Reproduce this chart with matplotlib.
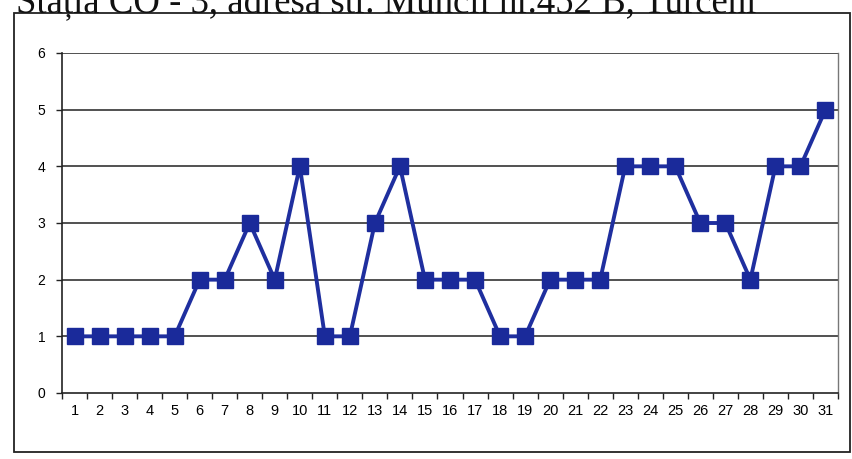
import matplotlib
matplotlib.use("Agg")
import matplotlib.pyplot as plt
from matplotlib.patches import Rectangle

days = list(range(1, 32))
values = [1, 1, 1, 1, 1, 2, 2, 3, 2, 4, 1, 1, 3, 4, 2, 2, 2, 1, 1, 2, 2, 2,
          4, 4, 4, 3, 3, 2, 4, 4, 5]
yticks = [0, 1, 2, 3, 4, 5, 6]
title_text = "Stația CO - 3, adresa str. Muncii nr.452 B, Turceni"

W, H = 853, 459
fig = plt.figure(figsize=(W / 100, H / 100), dpi=100)
fig.patch.set_facecolor("white")

# outer chart frame
fig.patches.append(Rectangle((14 / W, 1 - 452 / H), (850 - 14) / W, (452 - 13) / H,
                             transform=fig.transFigure, fill=False,
                             edgecolor="#222222", linewidth=1.3))

fig.text(16 / W, 1 - 12 / H, title_text, family="Liberation Serif",
         fontsize=26.5, va="baseline", ha="left", color="#111111")

ax = fig.add_axes([62 / W, 1 - 393 / H, (838 - 62) / W, (393 - 53) / H])
ax.set_xlim(0.5, 31.5)
ax.set_ylim(0, 6)

for y in yticks[1:]:
    ax.axhline(y, color="#333333", linewidth=1.2, zorder=1)

ax.plot(days, values, color="#1f2f9f", linewidth=2.8, marker="s",
        markersize=11.5, markerfacecolor="#1a2a9a", markeredgecolor="#1a2a9a",
        zorder=3, clip_on=False)

ax.set_yticks(yticks)
ax.set_yticklabels([str(v) for v in yticks], family="Liberation Sans", fontsize=10)
ax.set_xticks(days)
ax.set_xticklabels([str(d) for d in days], family="Liberation Sans", fontsize=10.5)
ax.set_xticks([d + 0.5 for d in [0] + days], minor=True)
ax.tick_params(axis="x", which="major", length=0, pad=8)
ax.tick_params(axis="x", which="minor", length=4, width=1, direction="out", color="#222222")
ax.tick_params(axis="y", length=4, width=1, direction="out", color="#222222", pad=8)

ax.spines["top"].set_visible(False)
ax.spines["left"].set_color("#222222")
ax.spines["left"].set_linewidth(1.2)
ax.spines["bottom"].set_color("#222222")
ax.spines["bottom"].set_linewidth(1.2)
ax.spines["right"].set_color("#777777")
ax.spines["right"].set_linewidth(1.0)

fig.savefig("out.png", dpi=100)
